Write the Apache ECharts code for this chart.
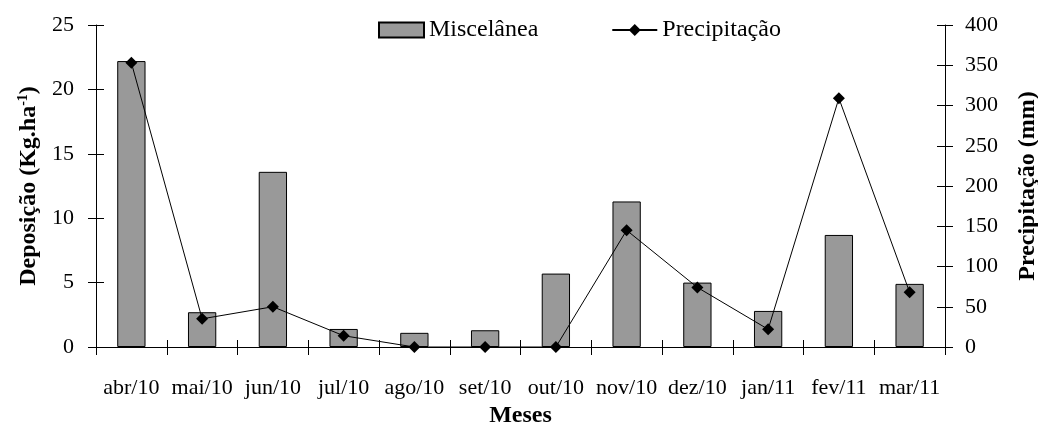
<!DOCTYPE html>
<html>
<head>
<meta charset="utf-8">
<title>Miscelânea e Precipitação</title>
<script src="https://cdn.jsdelivr.net/npm/echarts@6/dist/echarts.min.js"></script>
<style>
  html, body { margin: 0; padding: 0; background: #fff; }
  #chart { width: 1038px; height: 425px; }
</style>
</head>
<body>
<div id="chart"></div>
<script>
// dados
var meses = ['abr/10', 'mai/10', 'jun/10', 'jul/10', 'ago/10', 'set/10',
             'out/10', 'nov/10', 'dez/10', 'jan/11', 'fev/11', 'mar/11'];
var miscelanea = [22.2, 2.7, 13.6, 1.4, 1.1, 1.3, 5.7, 11.3, 5.0, 2.8, 8.7, 4.9];
var precipitacao = [353, 35, 50, 14, 0, 0, 0, 145, 74, 22, 309, 68];
var ticksDeposicao = [0, 5, 10, 15, 20, 25];
var ticksPrecip = [0, 50, 100, 150, 200, 250, 300, 350, 400];

var fonte = "'Liberation Serif', 'Times New Roman', serif";

var chart = echarts.init(document.getElementById('chart'));

// eixo "fantasma" so para desenhar a parte de dentro dos ticks
function eixoY(pos, max, intervalo, mostrar) {
  return {
    type: 'value',
    position: pos,
    min: 0,
    max: max,
    interval: intervalo,
    splitLine: { show: false },
    axisLine: { show: mostrar, lineStyle: { color: '#000', width: 1 } },
    axisTick: { show: true, inside: !mostrar, length: 8, lineStyle: { color: '#000' } },
    axisLabel: { show: mostrar, color: '#000', fontFamily: fonte, fontSize: 22, margin: 22 }
  };
}

var yEsq = eixoY('left', ticksDeposicao[ticksDeposicao.length - 1], 5, true);
yEsq.name = 'Deposição (Kg.ha{sup|-1})';
yEsq.nameLocation = 'middle';
yEsq.nameRotate = 90;
yEsq.nameGap = 52;
yEsq.nameTextStyle = {
  color: '#000', fontFamily: fonte, fontSize: 24, fontWeight: 'bold',
  rich: { sup: { fontSize: 14, fontWeight: 'bold', fontFamily: fonte, padding: [0, 0, 12, 0] } }
};

var yDir = eixoY('right', ticksPrecip[ticksPrecip.length - 1], 50, true);
yDir.name = 'Precipitação (mm)';
yDir.nameLocation = 'middle';
yDir.nameRotate = 90;
yDir.nameGap = 71;
yDir.nameTextStyle = { color: '#000', fontFamily: fonte, fontSize: 24, fontWeight: 'bold' };
yDir.axisLabel.margin = 20;

var option = {
  animation: false,
  backgroundColor: '#fff',
  textStyle: { fontFamily: fonte, color: '#000' },
  legend: {
    left: 373,
    top: 13,
    itemWidth: 45,
    itemHeight: 15,
    itemGap: 73,
    textStyle: { color: '#000', fontFamily: fonte, fontSize: 24 },
    data: [{ name: 'Miscelânea', icon: 'rect' }, 'Precipitação']
  },
  grid: { left: 96, right: 93, top: 25, bottom: 78, containLabel: false, outerBoundsMode: 'none' },
  xAxis: [
    {
      type: 'category',
      position: 'bottom',
      data: meses,
      boundaryGap: true,
      name: 'Meses',
      nameLocation: 'middle',
      nameGap: 54,
      nameTextStyle: { color: '#000', fontFamily: fonte, fontSize: 24, fontWeight: 'bold' },
      axisLine: { lineStyle: { color: '#000', width: 1 } },
      axisTick: { show: true, length: 8, lineStyle: { color: '#000' } },
      axisLabel: { color: '#000', fontFamily: fonte, fontSize: 22, margin: 30, interval: 0 },
      splitLine: { show: false }
    },
    {
      type: 'category',
      position: 'bottom',
      data: meses,
      boundaryGap: true,
      axisLine: { show: false },
      axisTick: { show: true, inside: true, length: 7, lineStyle: { color: '#000' } },
      axisLabel: { show: false },
      splitLine: { show: false }
    }
  ],
  yAxis: [
    yEsq,
    yDir,
    eixoY('left', ticksDeposicao[ticksDeposicao.length - 1], 5, false),
    eixoY('right', ticksPrecip[ticksPrecip.length - 1], 50, false)
  ],
  series: [
    {
      name: 'Miscelânea',
      type: 'bar',
      xAxisIndex: 0,
      yAxisIndex: 0,
      barWidth: '40%',
      data: miscelanea,
      itemStyle: { color: '#999999', borderColor: '#000', borderWidth: 1 }
    },
    {
      name: 'Precipitação',
      type: 'line',
      xAxisIndex: 0,
      yAxisIndex: 1,
      data: precipitacao,
      symbol: 'diamond',
      symbolSize: 12,
      lineStyle: { color: '#000', width: 1 },
      itemStyle: { color: '#000' }
    }
  ]
};

chart.setOption(option);
</script>
</body>
</html>
